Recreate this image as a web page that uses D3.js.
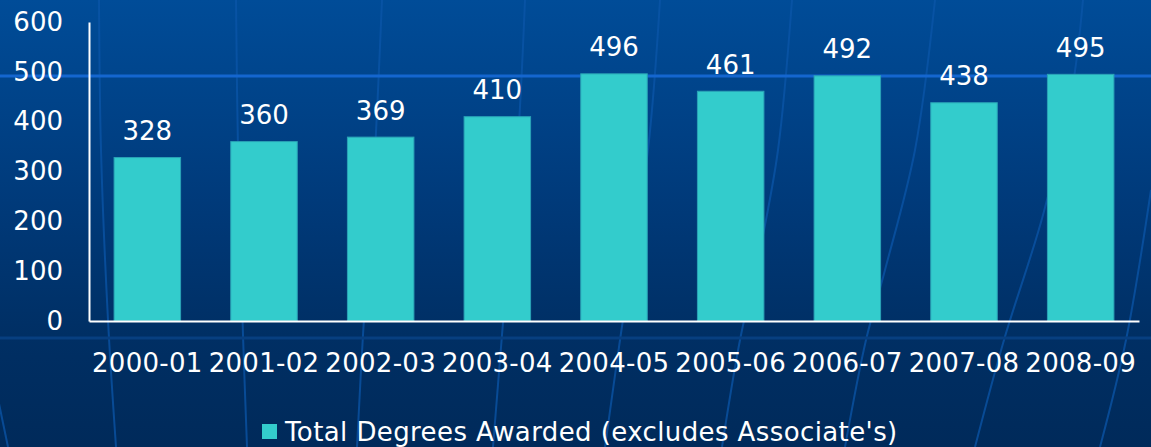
<!DOCTYPE html>
<html>
<head>
<meta charset="utf-8">
<script src="https://cdn.jsdelivr.net/npm/d3@7"></script>
<style>
  html, body { margin: 0; padding: 0; background: #003366; }
  svg { display: block; }
  text { font-family: "DejaVu Sans", Verdana, sans-serif; fill: #ffffff; }
</style>
</head>
<body>
<svg id="chart" width="1151" height="447"></svg>
<script>
// ---- data ----
const categories = ["2000-01","2001-02","2002-03","2003-04","2004-05","2005-06","2006-07","2007-08","2008-09"];
const values = [328, 360, 369, 410, 496, 461, 492, 438, 495];
const yTicks = [0, 100, 200, 300, 400, 500, 600];
const seriesName = "Total Degrees Awarded (excludes Associate's)";

// ---- decorative background meridians ----
const decoCurves = [
  [[99,0],[101,150],[108,320],[116,447]],
  [[236,0],[238,150],[243,335],[247,447]],
  [[382,0],[374,170],[363,335],[357,447]],
  [[525,0],[518,140],[502,335],[493,447]],
  [[660,0],[648,150],[620,340],[605,447]],
  [[792,0],[778,150],[760,250],[740,340],[722,447]],
  [[935,0],[915,150],[885,270],[866,340],[845,447]],
  [[1083,0],[1072,90],[1043,215],[1004,340],[975,447]],
  [[1151,190],[1126,340],[1100,447]],
  [[-8,370],[8,447]]
];

const W = 1151, H = 447;
const svg = d3.select("#chart");

// background gradient
const defs = svg.append("defs");
const grad = defs.append("linearGradient").attr("id","bg").attr("x1",0).attr("y1",0).attr("x2",0).attr("y2",1);
grad.append("stop").attr("offset","0%").attr("stop-color","#004c98");
grad.append("stop").attr("offset","45%").attr("stop-color","#003a7a");
grad.append("stop").attr("offset","75%").attr("stop-color","#002f64");
grad.append("stop").attr("offset","100%").attr("stop-color","#002a5a");
svg.append("rect").attr("width",W).attr("height",H).attr("fill","url(#bg)");

const line = d3.line().curve(d3.curveCatmullRom);
svg.append("g").selectAll("path").data(decoCurves).join("path")
  .attr("d", line).attr("fill","none")
  .attr("stroke","#0b55a8").attr("stroke-width",2).attr("opacity",0.75);

svg.append("line").attr("x1",0).attr("x2",W).attr("y1",76).attr("y2",76)
  .attr("stroke","#1466cf").attr("stroke-width",3);
svg.append("line").attr("x1",0).attr("x2",W).attr("y1",338).attr("y2",338)
  .attr("stroke","#073f80").attr("stroke-width",3);

// ---- scales ----
const x = d3.scaleBand().domain(categories).range([89, 1139]).paddingInner(0.43).paddingOuter(0.215);
const y = d3.scaleLinear().domain([0, 600]).range([321, 22]);

// bars
svg.append("g").selectAll("rect").data(values).join("rect")
  .attr("x", (d,i) => x(categories[i]))
  .attr("y", d => y(d))
  .attr("width", x.bandwidth())
  .attr("height", d => y(0) - y(d))
  .attr("fill", "#33cccc")
  .attr("stroke", "#2aa3b6")
  .attr("stroke-width", 1);

// value labels
svg.append("g").selectAll("text").data(values).join("text")
  .attr("x", (d,i) => x(categories[i]) + x.bandwidth()/2)
  .attr("y", d => y(d) - 17.5)
  .attr("text-anchor","middle")
  .style("font-size","26px")
  .text(d => d);

// y axis
const yAxis = svg.append("g").attr("transform","translate(89,0)")
  .call(d3.axisLeft(y).tickValues(yTicks).tickSize(0).tickSizeOuter(0).tickPadding(26));
yAxis.select(".domain").attr("stroke","#ffffff").attr("stroke-width",2);
yAxis.selectAll("text").style("font-size","26px").attr("fill","#ffffff")
  .style("font-family","'DejaVu Sans', Verdana, sans-serif");

// x axis
const xAxis = svg.append("g").attr("transform","translate(0,321)")
  .call(d3.axisBottom(x).tickSize(0).tickSizeOuter(0).tickPadding(33));
xAxis.select(".domain").attr("stroke","#ffffff").attr("stroke-width",2);
xAxis.selectAll("text").style("font-size","26px").attr("fill","#ffffff")
  .style("letter-spacing","0.3px")
  .style("font-family","'DejaVu Sans', Verdana, sans-serif");

// legend
const lg = svg.append("g");
lg.append("rect").attr("x",262).attr("y",424).attr("width",15).attr("height",15).attr("fill","#33cccc");
lg.append("text").attr("x",285).attr("y",441).style("font-size","26px")
  .style("letter-spacing","0.4px").text(seriesName);
</script>
</body>
</html>
